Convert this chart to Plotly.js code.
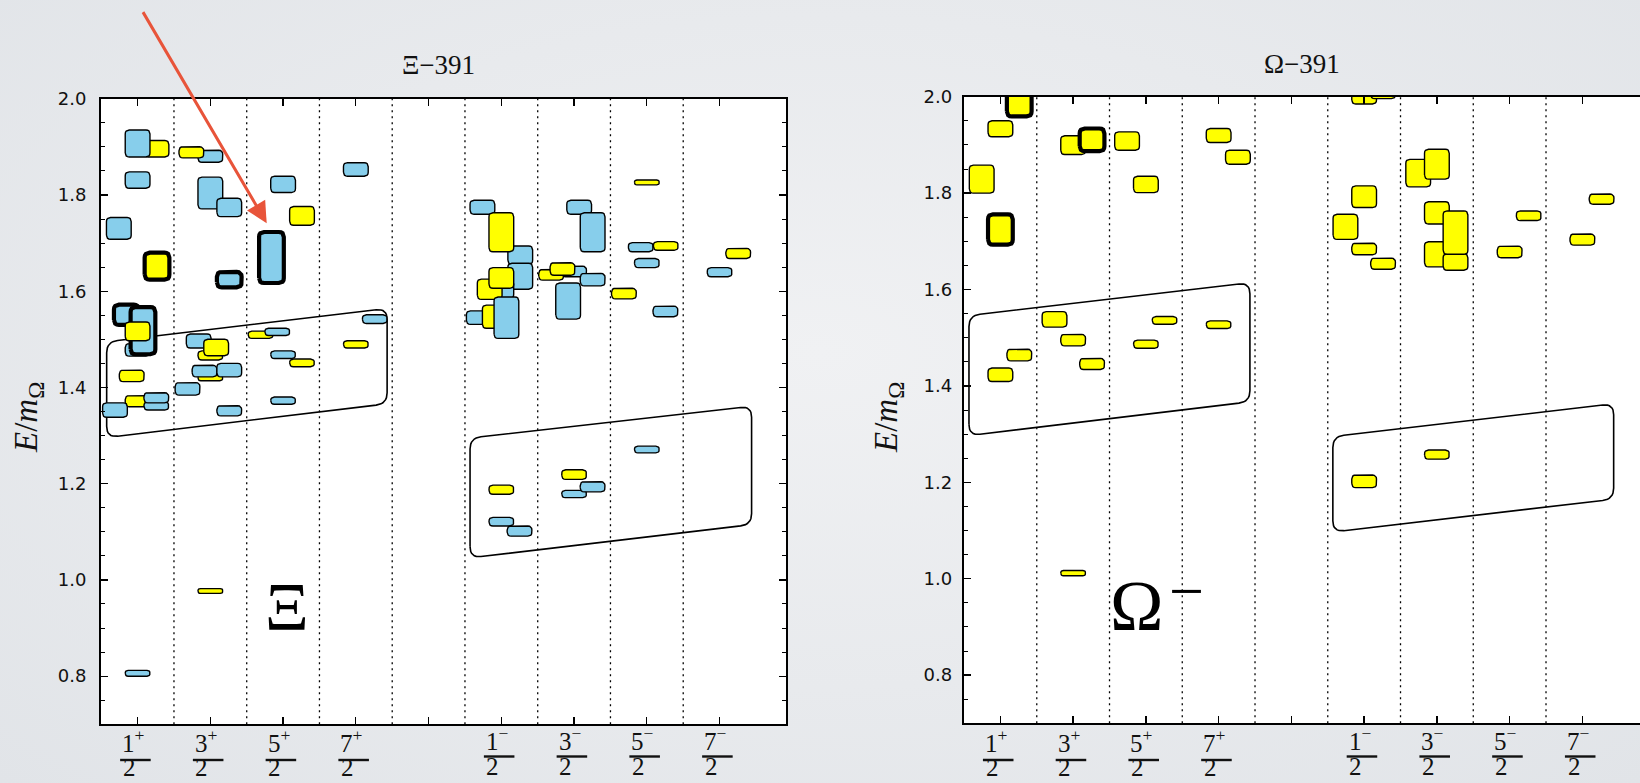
<!DOCTYPE html>
<html><head><meta charset="utf-8">
<script src="https://cdn.plot.ly/plotly-3.0.1.min.js"></script>
<style>
html,body{margin:0;padding:0;width:1640px;height:783px;overflow:hidden;
background:radial-gradient(ellipse at 50% 45%, #f0f1f3 0%, #e8eaed 55%, #e1e4e8 100%);}
#chart{width:1660px;height:783px;}
</style></head><body><div id="chart"></div>
<script>
// ---------------- data ----------------
const spinTicks = [1,2,3,4,5,6,7,8,9];
const tickNumerators = ['1<sup>+</sup>','3<sup>+</sup>','5<sup>+</sup>','7<sup>+</sup>','','1<sup>−</sup>','3<sup>−</sup>','5<sup>−</sup>','7<sup>−</sup>'];
const tickParity = ['+','+','+','+','','-','-','-','-'];
const tickDenominator = '2';
const yTickVals = [0.8,1.0,1.2,1.4,1.6,1.8,2.0];
const panelTitles = ['Ξ−391','Ω−391'];
const yTitle = '<i>E</i>/<i>m</i><sub>Ω</sub>';

// Xi panel levels: column position, lower / upper energy, operator set (b / y), highlighted
const xiX  = [1.26,1.0,1.0,0.742,1.267,0.845,1.0,1.074,1.0,0.919,1.0,1.257,1.257,0.689,1.0,
              2.0,1.739,2.0,2.26,2.26,1.84,2.0,2.08,2.0,1.92,2.26,1.686,2.26,2.0,
              3.0,3.26,2.84,2.69,2.92,3.0,3.26,3.0,
              4.0,4.0,4.26,
              5.74,6.26,6.26,6.0,6.0,5.84,6.0,5.69,5.91,6.07,
              7.07,7.255,7.0,6.684,6.84,7.255,6.918,
              8.0,7.916,8.26,8.0,7.685,8.255,
              9.256,9.0,
              6.0,6.0,6.25,7.0,7.0,7.254,8.0];
const xiLo = [1.879,1.879,1.814,1.708,1.624,1.530,1.465,1.469,1.497,1.412,1.360,1.353,1.368,1.338,0.800,
              1.868,1.877,1.771,1.755,1.608,1.482,1.457,1.466,1.414,1.422,1.422,1.384,1.341,0.972,
              1.805,1.737,1.617,1.502,1.508,1.460,1.443,1.365,
              1.839,1.482,1.533,
              1.760,1.656,1.604,1.682,1.585,1.583,1.606,1.531,1.523,1.502,
              1.760,1.682,1.630,1.623,1.633,1.611,1.542,
              1.821,1.682,1.685,1.649,1.584,1.547,
              1.668,1.630,
              1.178,1.112,1.091,1.209,1.171,1.183,1.264];
const xiHi = [1.913,1.935,1.848,1.753,1.680,1.572,1.491,1.567,1.536,1.436,1.383,1.370,1.389,1.368,0.812,
              1.893,1.900,1.837,1.793,1.640,1.511,1.476,1.500,1.426,1.446,1.450,1.410,1.362,0.982,
              1.839,1.776,1.723,1.517,1.523,1.476,1.459,1.380,
              1.867,1.497,1.551,
              1.789,1.694,1.658,1.763,1.623,1.625,1.649,1.559,1.571,1.588,
              1.789,1.763,1.652,1.645,1.659,1.637,1.617,
              1.831,1.701,1.703,1.668,1.606,1.569,
              1.689,1.649,
              1.197,1.130,1.112,1.229,1.186,1.204,1.278];
const xiSet = ['y','b','b','b','y','b','b','b','y','y','y','b','b','b','b',
               'b','y','b','b','b','b','y','y','y','b','b','b','b','y',
               'b','y','b','y','b','b','y','b',
               'b','y','b',
               'b','b','b','y','b','y','y','b','y','b',
               'b','b','b','y','y','b','b',
               'y','b','y','b','y','b',
               'y','b',
               'y','b','b','y','b','b','b'];
const xiBold = [0,0,0,0,1,1,0,1,0,0,0,0,0,0,0,
                0,0,0,0,1,0,0,0,0,0,0,0,0,0,
                0,0,1,0,0,0,0,0,
                0,0,0,
                0,0,0,0,0,0,0,0,0,0,
                0,0,0,0,0,0,0,
                0,0,0,0,0,0,
                0,0,
                0,0,0,0,0,0,0];

// Omega panel levels
const omX  = [1.259,1.0,0.743,1.0,1.26,1.0,
              2.0,2.26,1.744,2.0,2.26,2.0,
              2.741,3.0,3.257,3.0,
              4.0,4.265,4.0,
              6.0,6.26,6.0,5.743,6.0,6.26,6.0,
              6.743,7.0,7.0,7.0,7.256,7.256,7.0,
              8.262,8.0,
              9.264,9.0];
const omLo = [1.959,1.917,1.800,1.693,1.452,1.409,
              1.880,1.887,1.522,1.483,1.434,1.006,
              1.889,1.801,1.528,1.478,
              1.905,1.860,1.519,
              1.985,1.996,1.770,1.704,1.672,1.642,1.189,
              1.813,1.829,1.736,1.647,1.640,1.673,1.248,
              1.743,1.666,
              1.777,1.692];
const omHi = [2.020,1.950,1.858,1.756,1.476,1.437,
              1.919,1.934,1.554,1.507,1.457,1.017,
              1.927,1.835,1.544,1.495,
              1.934,1.889,1.535,
              2.050,2.050,1.815,1.756,1.696,1.665,1.215,
              1.870,1.891,1.782,1.699,1.674,1.763,1.267,
              1.763,1.690,
              1.798,1.715];
const omSet = omX.map(() => 'y');
const omBold = [1,0,0,1,0,0, 0,1,0,0,0,0, 0,0,0,0, 0,0,0, 0,0,0,0,0,0,0, 0,0,0,0,0,0,0, 0,0, 0,0];

// grouping bands (rounded parallelograms): left/right x, lower & upper edge at left / right
const xiBandX0 = [0.575, 5.57], xiBandX1 = [4.43, 9.44];
const xiBandLoL = [1.296, 1.046], xiBandLoR = [1.366, 1.115];
const xiBandHiL = [1.495, 1.295], xiBandHiR = [1.564, 1.361];
const omBandX0 = [0.568, 5.57], omBandX1 = [4.43, 9.43];
const omBandLoL = [1.297, 1.097], omBandLoR = [1.367, 1.165];
const omBandHiL = [1.546, 1.295], omBandHiR = [1.614, 1.363];

// ---------------- styling / helpers ----------------
const W = 1660, H = 783;
const X_RANGE = [0.497, 9.913], Y_RANGE = [0.7, 2.0];
const PX_X = 72.76, PX_Y = 481;
const BOX_W = 0.34;
const COLORS = {b: '#87ceeb', y: '#ffff00'};
const SERIF = 'Liberation Serif, DejaVu Serif, serif';

function roundedPoly(pts, r, nSeg) {
  const P = pts.map(p => [p[0]*PX_X, p[1]*PX_Y]);
  const N = P.length, out = [];
  for (let i = 0; i < N; i++) {
    const prev = P[(i-1+N)%N], cur = P[i], next = P[(i+1)%N];
    const v1 = [prev[0]-cur[0], prev[1]-cur[1]], v2 = [next[0]-cur[0], next[1]-cur[1]];
    const l1 = Math.hypot(v1[0], v1[1]), l2 = Math.hypot(v2[0], v2[1]);
    const rr = Math.min(r, l1/2, l2/2);
    const a = [cur[0]+v1[0]/l1*rr, cur[1]+v1[1]/l1*rr];
    const b = [cur[0]+v2[0]/l2*rr, cur[1]+v2[1]/l2*rr];
    for (let k = 0; k <= nSeg; k++) {
      const t = k/nSeg;
      out.push([((1-t)*(1-t)*a[0]+2*(1-t)*t*cur[0]+t*t*b[0])/PX_X,
                ((1-t)*(1-t)*a[1]+2*(1-t)*t*cur[1]+t*t*b[1])/PX_Y]);
    }
  }
  out.push(out[0]);
  return {x: out.map(p => p[0]), y: out.map(p => p[1])};
}

const traces = [];
function addBands(x0, x1, loL, loR, hiL, hiR, xa, ya) {
  for (let i = 0; i < x0.length; i++) {
    const p = roundedPoly([[x0[i], loL[i]], [x1[i], loR[i]], [x1[i], hiR[i]], [x0[i], hiL[i]]], 11, 8);
    traces.push({type:'scatter', mode:'lines', x:p.x, y:p.y, xaxis:xa, yaxis:ya,
      line:{color:'#000', width:1.6}, hoverinfo:'skip', showlegend:false});
  }
}
function addBoxes(X, Lo, Hi, S, B, xa, ya) {
  for (let i = 0; i < X.length; i++) {
    const hw = BOX_W/2;
    const p = roundedPoly([[X[i]-hw, Lo[i]], [X[i]+hw, Lo[i]], [X[i]+hw, Hi[i]], [X[i]-hw, Hi[i]]], B[i] ? 5 : 4, 4);
    traces.push({type:'scatter', mode:'lines', x:p.x, y:p.y, xaxis:xa, yaxis:ya,
      fill:'toself', fillcolor:COLORS[S[i]],
      line:{color:'#000', width: B[i] ? 4.2 : 1.4}, hoverinfo:'skip', showlegend:false});
  }
}
addBands(xiBandX0, xiBandX1, xiBandLoL, xiBandLoR, xiBandHiL, xiBandHiR, 'x', 'y');
addBands(omBandX0, omBandX1, omBandLoL, omBandLoR, omBandHiL, omBandHiR, 'x2', 'y2');
addBoxes(xiX, xiLo, xiHi, xiSet, xiBold, 'x', 'y');
addBoxes(omX, omLo, omHi, omSet, omBold, 'x2', 'y2');

const xDom = [[101/W, 786/W], [963.8/W, 1648.8/W]];
const yDom = [[(H-724.3)/H, (H-98.7)/H], [(H-723.3)/H, (H-96.7)/H]];

function xAxis(i) {
  return {domain:xDom[i], range:X_RANGE, anchor: i ? 'y2' : 'y', tickmode:'array', tickvals:spinTicks,
    showticklabels:false, ticks:'inside', ticklen:7, tickwidth:1.3, tickcolor:'#000',
    showline:true, linewidth:2, linecolor:'#000', mirror:'ticks', showgrid:false, zeroline:false, fixedrange:true};
}
function yAxis(i) {
  return {domain:yDom[i], range:Y_RANGE, anchor: i ? 'x2' : 'x', tickmode:'array', tickvals:yTickVals,
    ticktext:yTickVals.map(v => v.toFixed(1)),
    ticks:'inside', ticklen:7, tickwidth:1.3, tickcolor:'#000',
    minor:{tick0:0, dtick:0.05, ticks:'inside', ticklen:4, tickwidth:1, tickcolor:'#000'},
    tickfont:{family:'DejaVu Sans, sans-serif', size:18, color:'#111'}, ticklabelstandoff: i ? 6 : 9,
    showline:true, linewidth:2, linecolor:'#000', mirror:'ticks', showgrid:false, zeroline:false, fixedrange:true};
}

const shapes = [], annotations = [];
// dotted separators between spin columns
[['x','y'],['x2','y2']].forEach(([xa, ya]) => {
  for (let k = 0; k < spinTicks.length - 1; k++) {
    const xs = (spinTicks[k] + spinTicks[k+1]) / 2;
    shapes.push({type:'line', xref:xa, yref:ya, x0:xs, x1:xs, y0:Y_RANGE[0], y1:Y_RANGE[1],
      line:{color:'#000', width:1.3, dash:'2px,4px'}, layer:'below'});
  }
});
// fraction tick labels
const fracFont = {family:SERIF, size:25, color:'#111'};
const fracPos = {'+': {num:741, bar:760, den:767.5}, '-': {num:739, bar:756.5, den:766}};
['x','x2'].forEach(xa => {
  spinTicks.forEach((t, i) => {
    if (!tickNumerators[i]) return;
    const p = fracPos[tickParity[i]];
    annotations.push({xref:xa, yref:'paper', x:t-0.055, y:1-p.num/H, text:tickNumerators[i],
      showarrow:false, xanchor:'center', yanchor:'middle', font:fracFont});
    shapes.push({type:'line', xref:xa, yref:'paper', x0:t-0.24, x1:t+0.18, y0:1-p.bar/H, y1:1-p.bar/H,
      line:{color:'#111', width:2.4}, layer:'above'});
    annotations.push({xref:xa, yref:'paper', x:t-0.115, y:1-p.den/H, text:tickDenominator,
      showarrow:false, xanchor:'center', yanchor:'middle', font:fracFont});
  });
});
// panel titles
annotations.push({xref:'paper', yref:'paper', x:438.6/W, y:1-65/H, text:panelTitles[0], showarrow:false,
  xanchor:'center', yanchor:'middle', font:{family:SERIF, size:27, color:'#111'}});
annotations.push({xref:'paper', yref:'paper', x:1301.7/W, y:1-64/H, text:panelTitles[1], showarrow:false,
  xanchor:'center', yanchor:'middle', font:{family:SERIF, size:27, color:'#111'}});
// y titles
annotations.push({xref:'paper', yref:'paper', x:28/W, y:1-418/H, text:yTitle, textangle:-90, showarrow:false,
  xanchor:'center', yanchor:'middle', font:{family:SERIF, size:33, color:'#111'}});
annotations.push({xref:'paper', yref:'paper', x:888/W, y:1-418/H, text:yTitle, textangle:-90, showarrow:false,
  xanchor:'center', yanchor:'middle', font:{family:SERIF, size:33, color:'#111'}});
// big particle labels
annotations.push({xref:'x', yref:'y', x:3.053, y:0.946, text:'Ξ', showarrow:false,
  xanchor:'center', yanchor:'middle', font:{family:SERIF, size:68, color:'#000'}});
annotations.push({xref:'x2', yref:'y2', x:2.872, y:0.943, text:'Ω', showarrow:false,
  xanchor:'center', yanchor:'middle', font:{family:SERIF, size:72, color:'#000'}});
annotations.push({xref:'x2', yref:'y2', x:3.555, y:0.975, text:'−', showarrow:false,
  xanchor:'center', yanchor:'middle', font:{family:SERIF, size:62, color:'#000'}});
// red arrow
annotations.push({xref:'paper', yref:'paper', x:266.7/W, y:1-223.3/H, axref:'pixel', ayref:'pixel',
  ax:-126.7, ay:-216.3, text:' ', showarrow:true, arrowhead:2, arrowsize:1.4, arrowwidth:3,
  arrowcolor:'#e8543a', standoff:0});

const layout = {
  width:W, height:H, margin:{l:0, r:0, t:0, b:0},
  paper_bgcolor:'rgba(0,0,0,0)', plot_bgcolor:'#ffffff',
  showlegend:false, hovermode:false,
  xaxis:xAxis(0), yaxis:yAxis(0), xaxis2:xAxis(1), yaxis2:yAxis(1),
  shapes, annotations
};
Plotly.newPlot('chart', traces, layout, {displayModeBar:false, staticPlot:true});
</script></body></html>
